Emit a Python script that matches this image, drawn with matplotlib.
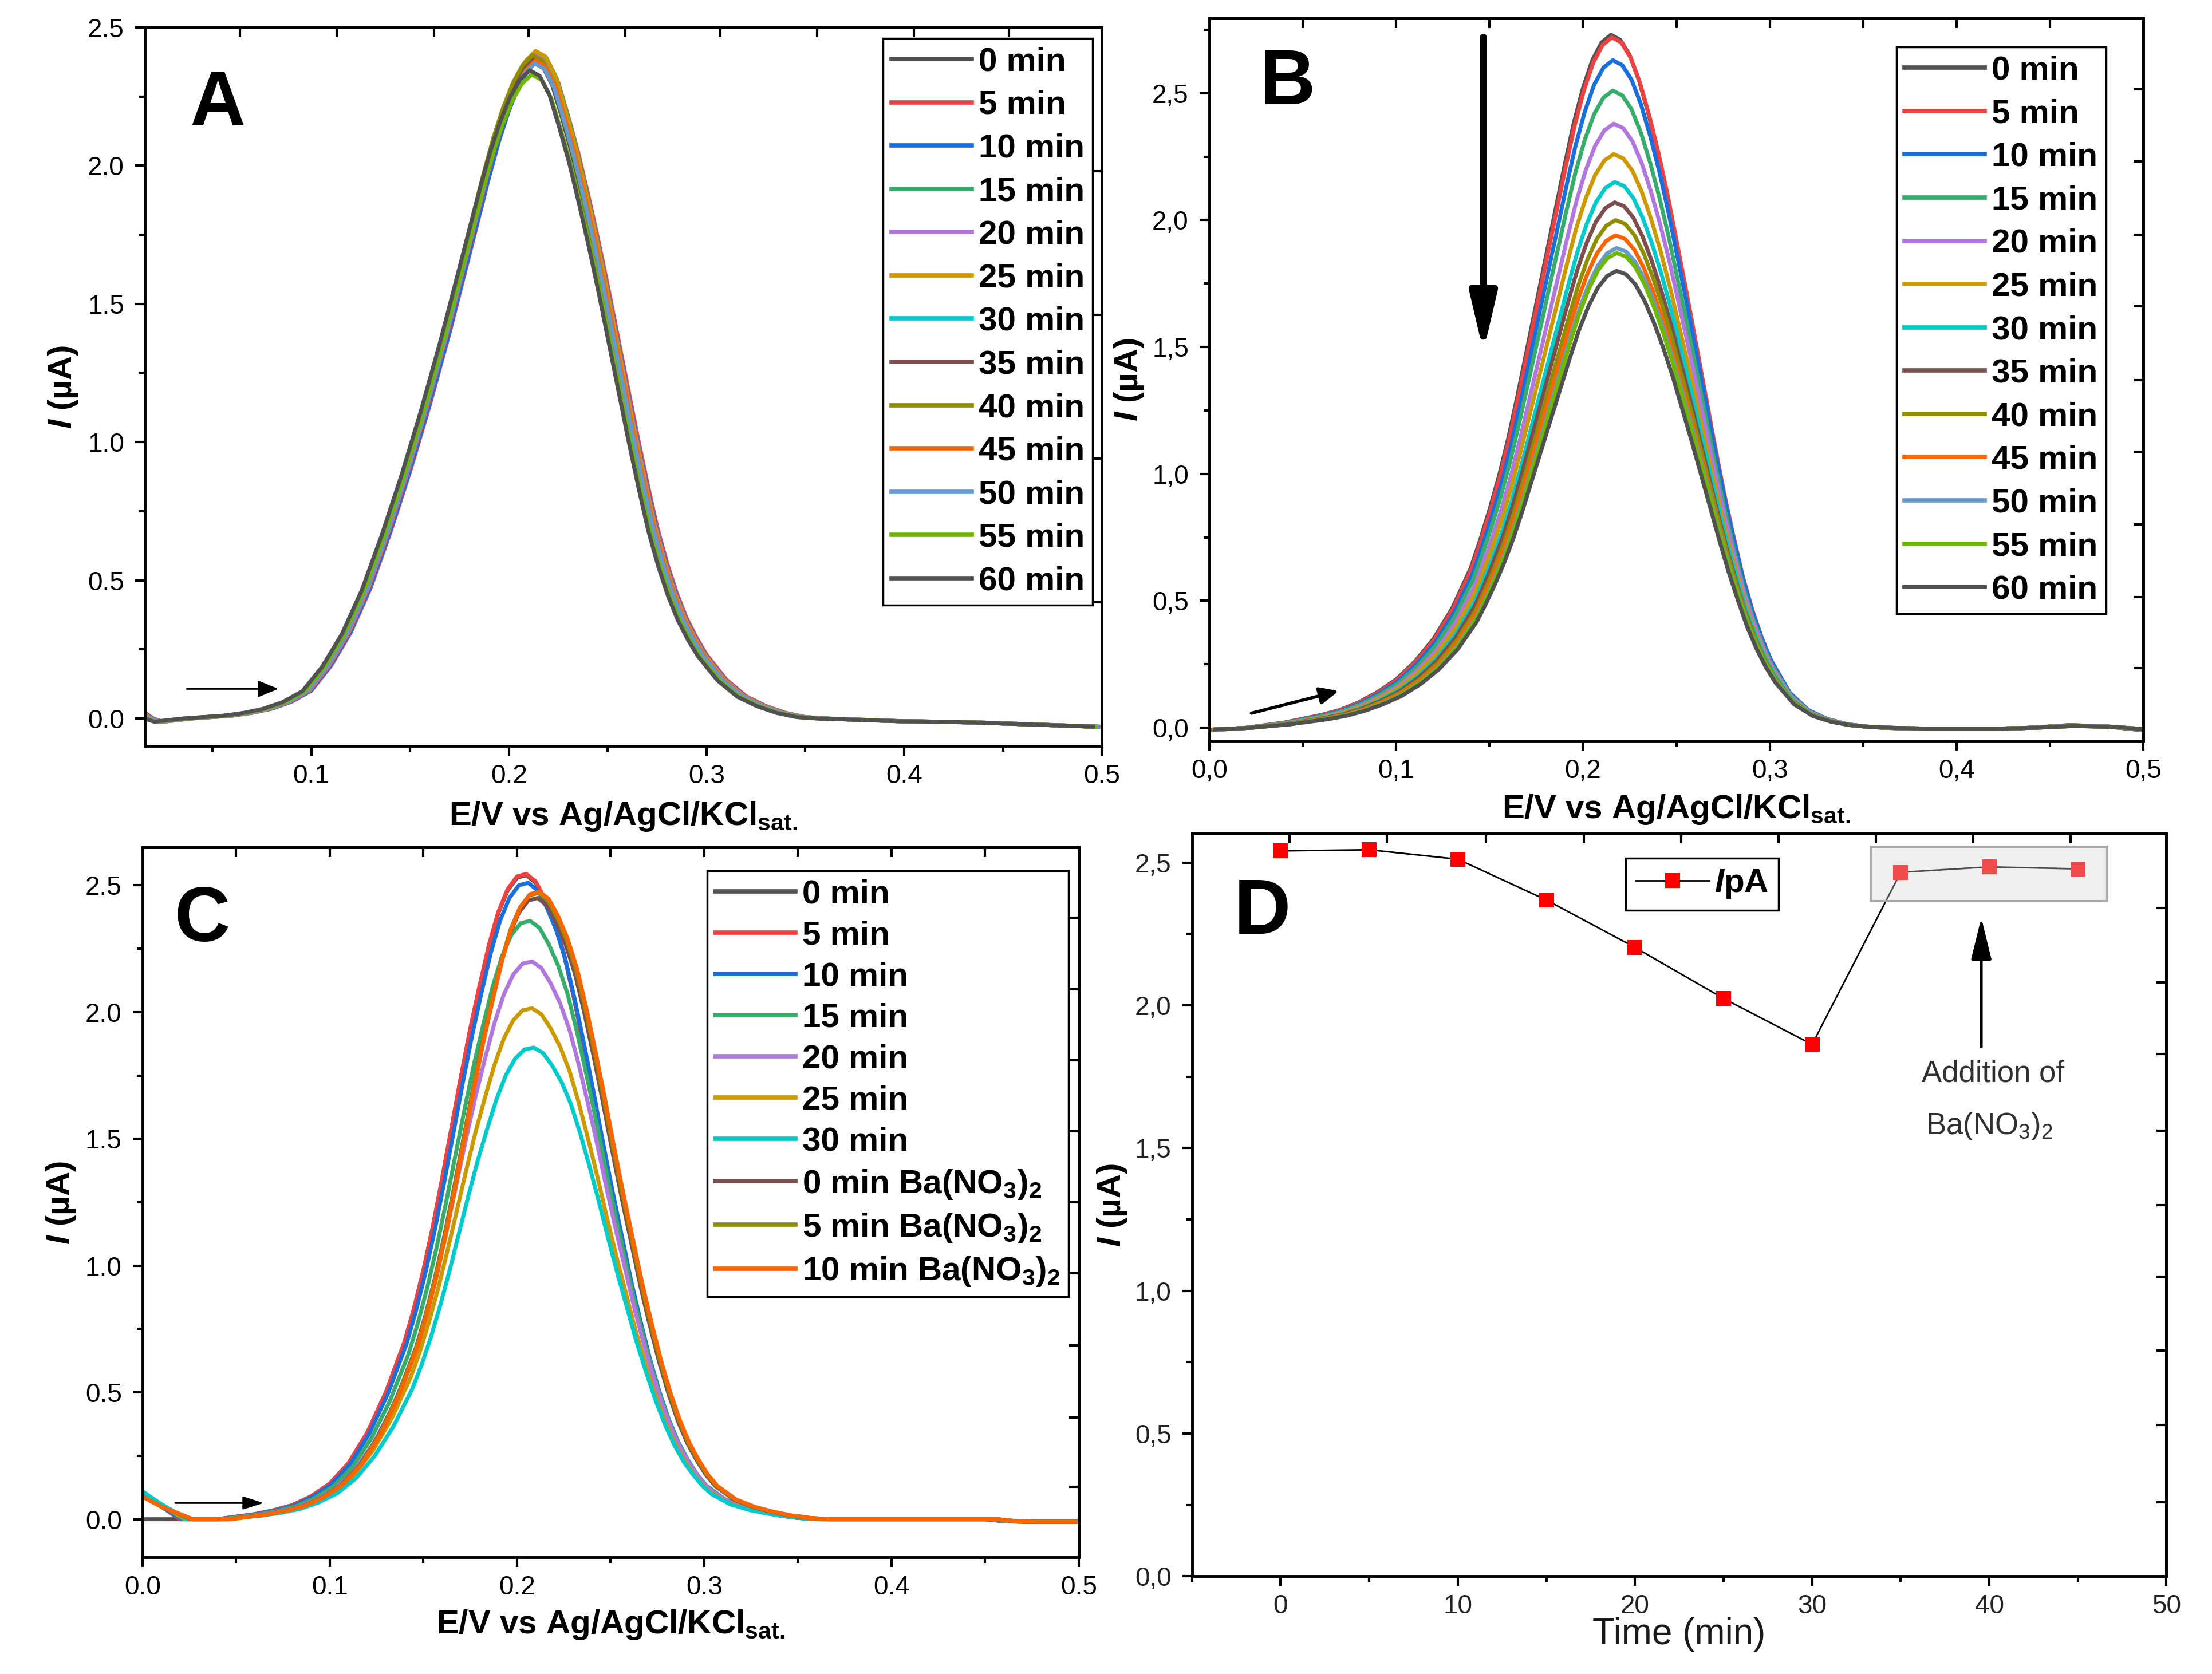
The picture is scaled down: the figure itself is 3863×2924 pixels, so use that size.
import numpy as np
import matplotlib
matplotlib.use('Agg')
import matplotlib.pyplot as plt
import matplotlib.ticker as ticker
from matplotlib.patches import Rectangle

plt.rcParams['font.family'] = ['Liberation Sans', 'DejaVu Sans']
plt.rcParams['mathtext.fontset'] = 'custom'
plt.rcParams['mathtext.rm'] = 'Liberation Sans'
plt.rcParams['mathtext.it'] = 'Liberation Sans:italic:bold'
plt.rcParams['mathtext.bf'] = 'Liberation Sans:bold'

# ---------------- data ----------------
min_labels = ['0 min', '5 min', '10 min', '15 min', '20 min', '25 min', '30 min',
              '35 min', '40 min', '45 min', '50 min', '55 min', '60 min']
min_colors = ['#515151', '#F14040', '#1A6FDF', '#37AD6B', '#B177DE', '#CC9900', '#00CBCC',
              '#7D4E4E', '#8E8E00', '#FB6501', '#6699CC', '#6FB802', '#515151']

# panel A: potential grid + shape of the voltammogram, peak height and small shift per curve
A_E = [0.016, 0.02, 0.025, 0.03, 0.04, 0.05, 0.06, 0.07, 0.08, 0.09, 0.10, 0.11, 0.12, 0.13,
       0.14, 0.15, 0.16, 0.17, 0.18, 0.19, 0.195, 0.20, 0.205, 0.21, 0.215, 0.22, 0.225, 0.23,
       0.235, 0.24, 0.245, 0.25, 0.255, 0.26, 0.265, 0.27, 0.275, 0.28, 0.285, 0.29, 0.295,
       0.30, 0.31, 0.32, 0.33, 0.34, 0.35, 0.36, 0.38, 0.40, 0.42, 0.44, 0.46, 0.48, 0.50]
A_I = [0.02, 0.0, -0.012, -0.008, 0.0, 0.005, 0.01, 0.02, 0.035, 0.06, 0.10, 0.19, 0.31, 0.47,
       0.67, 0.89, 1.13, 1.39, 1.67, 1.95, 2.08, 2.19, 2.28, 2.345, 2.38, 2.36, 2.29, 2.17,
       2.04, 1.89, 1.73, 1.56, 1.38, 1.20, 1.02, 0.85, 0.69, 0.56, 0.45, 0.36, 0.29,
       0.23, 0.14, 0.08, 0.045, 0.02, 0.005, 0.0, -0.005, -0.01, -0.012, -0.015, -0.02, -0.025, -0.03]
A_peak = [2.38, 2.39, 2.38, 2.41, 2.40, 2.415, 2.39, 2.39, 2.40, 2.38, 2.37, 2.33, 2.345]
A_shift = [-0.003, 0.0, -0.0005, -0.001, -0.001, -0.0015, -0.002, -0.0025, -0.003, -0.0015,
           -0.002, -0.0035, -0.0045]

# panel B
B_E = [0.0, 0.01, 0.02, 0.03, 0.04, 0.05, 0.06, 0.07, 0.08, 0.09, 0.10, 0.11, 0.12, 0.13, 0.14,
       0.145, 0.15, 0.155, 0.16, 0.165, 0.17, 0.175, 0.18, 0.185, 0.19, 0.195, 0.20, 0.205, 0.21,
       0.215, 0.22, 0.225, 0.23, 0.235, 0.24, 0.245, 0.25, 0.255, 0.26, 0.265, 0.27, 0.275, 0.28,
       0.285, 0.29, 0.295, 0.30, 0.31, 0.32, 0.33, 0.34, 0.35, 0.36, 0.38, 0.40, 0.42, 0.44,
       0.46, 0.48, 0.50]
B_I = [-0.01, -0.005, 0.0, 0.01, 0.02, 0.035, 0.05, 0.07, 0.10, 0.14, 0.19, 0.26, 0.35, 0.47, 0.63,
       0.74, 0.86, 0.99, 1.14, 1.31, 1.49, 1.67, 1.85, 2.03, 2.21, 2.38, 2.52, 2.63, 2.70,
       2.73, 2.71, 2.65, 2.55, 2.42, 2.27, 2.10, 1.91, 1.72, 1.52, 1.32, 1.12, 0.93, 0.76,
       0.60, 0.47, 0.36, 0.27, 0.14, 0.07, 0.035, 0.015, 0.005, 0.0, -0.005, -0.005, -0.005, 0.0,
       0.01, 0.005, -0.01]
B_peak = [2.73, 2.72, 2.63, 2.51, 2.38, 2.26, 2.15, 2.07, 2.00, 1.94, 1.89, 1.87, 1.80]
B_shift = [0.0, 0.0005, 0.001, 0.001, 0.0015, 0.0015, 0.002, 0.002, 0.0025, 0.0025, 0.003, 0.003, 0.003]

# panel C
C_labels = ['0 min', '5 min', '10 min', '15 min', '20 min', '25 min', '30 min',
            r'0 min Ba(NO$_\mathbf{3}$)$_\mathbf{2}$', r'5 min Ba(NO$_\mathbf{3}$)$_\mathbf{2}$',
            r'10 min Ba(NO$_\mathbf{3}$)$_\mathbf{2}$']
C_colors = ['#515151', '#F14040', '#1A6FDF', '#37AD6B', '#B177DE', '#CC9900', '#00CBCC',
            '#7D4E4E', '#8E8E00', '#FB6501']
C_E = [0.02, 0.03, 0.04, 0.05, 0.06, 0.07, 0.08, 0.09, 0.10, 0.11, 0.12, 0.13, 0.14,
       0.145, 0.15, 0.155, 0.16, 0.165, 0.17, 0.175, 0.18, 0.185, 0.19, 0.195, 0.20, 0.205,
       0.21, 0.215, 0.22, 0.225, 0.23, 0.235, 0.24, 0.245, 0.25, 0.255, 0.26, 0.265, 0.27,
       0.275, 0.28, 0.285, 0.29, 0.295, 0.30, 0.31, 0.32, 0.33, 0.34, 0.35, 0.36, 0.40, 0.45,
       0.46, 0.47, 0.50]
C_I = [0.0, 0.0, 0.0, 0.01, 0.02, 0.035, 0.055, 0.09, 0.14, 0.22, 0.34, 0.50, 0.70,
       0.83, 0.98, 1.15, 1.34, 1.54, 1.74, 1.93, 2.10, 2.26, 2.39, 2.48, 2.53, 2.54,
       2.51, 2.44, 2.35, 2.23, 2.07, 1.89, 1.70, 1.50, 1.31, 1.13, 0.95, 0.79, 0.64,
       0.51, 0.40, 0.31, 0.24, 0.18, 0.135, 0.08, 0.05, 0.03, 0.015, 0.005, 0.0, 0.0, 0.0,
       -0.008, -0.01, -0.01]
C_peak = [2.54, 2.545, 2.51, 2.36, 2.20, 2.015, 1.86, 2.45, 2.47, 2.475]
C_shift = [0.0, 0.0, 0.001, 0.002, 0.003, 0.003, 0.004, 0.006, 0.0065, 0.007]
C_start0 = [0.0, 0.09, 0.09, 0.10, 0.10, 0.10, 0.11, 0.09, 0.09, 0.09]   # I at E = 0.00
C_start1 = [0.0, 0.05, 0.05, 0.055, 0.055, 0.055, 0.06, 0.05, 0.05, 0.05]  # I at E = 0.01

# panel D
D_time = [0, 5, 10, 15, 20, 25, 30, 35, 40, 45]
D_ipa = [2.541, 2.545, 2.512, 2.369, 2.203, 2.024, 1.863, 2.466, 2.485, 2.478]

# ---------------- figure ----------------
fig = plt.figure(figsize=(38.63, 29.24), dpi=100)
axA = fig.add_axes([0.0655, 0.5543, 0.4326, 0.4293])
axB = fig.add_axes([0.5467, 0.5574, 0.4223, 0.4315])
axC = fig.add_axes([0.0644, 0.0696, 0.4233, 0.4241])
axD = fig.add_axes([0.5389, 0.0584, 0.4405, 0.4437])

TICK_FS = 33
LAB_FS = 42
LEG_FS = 42
LW = 5


def comma(v, pos):
    return f'{v:.1f}'.replace('.', ',')


def style(ax, xmaj, xmin, ymaj, ymin, top_ticks, right_ticks, fmt, tcolor='black'):
    ax.xaxis.set_major_locator(ticker.MultipleLocator(xmaj))
    ax.xaxis.set_minor_locator(ticker.MultipleLocator(xmin))
    ax.yaxis.set_major_locator(ticker.MultipleLocator(ymaj))
    ax.yaxis.set_minor_locator(ticker.MultipleLocator(ymin))
    ax.yaxis.set_major_formatter(ticker.FuncFormatter(fmt))
    ax.tick_params(which='both', direction='out', width=3, labelsize=TICK_FS,
                   labelcolor=tcolor, top=False, right=False)
    ax.tick_params(which='major', length=12)
    ax.tick_params(which='minor', length=7)
    ax.tick_params(axis='x', pad=10)
    ax.tick_params(axis='y', pad=14)
    for s in ax.spines.values():
        s.set_linewidth(3.5)
    sx = ax.secondary_xaxis('top')
    sx.set_xticks(top_ticks)
    sx.tick_params(direction='in', length=12, width=3, labeltop=False)
    sx.spines['top'].set_linewidth(3.5)
    sy = ax.secondary_yaxis('right')
    sy.set_yticks(right_ticks)
    sy.tick_params(direction='in', length=12, width=3, labelright=False)
    sy.spines['right'].set_linewidth(3.5)


def curves(ax, E, I, peaks, shifts, labels, colors):
    top = max(I)
    for lab, h, s, c in zip(labels, peaks, shifts, colors):
        ax.plot(np.array(E) + s, np.array(I) * h / top, color=c, lw=LW, label=lab)


def legend(ax, anchor, spacing=0.37):
    leg = ax.legend(loc='upper left', bbox_to_anchor=anchor, borderaxespad=0,
                    prop={'weight': 'bold', 'size': LEG_FS},
                    frameon=True, fancybox=False, edgecolor='black', framealpha=1,
                    handlelength=2.4, handletextpad=0.2, labelspacing=spacing,
                    borderpad=0.25)
    leg.get_frame().set_linewidth(2.5)
    for ln in leg.get_lines():
        ln.set_linewidth(5.5)
    return leg


xlab = r'E/V vs Ag/AgCl/KCl$_\mathbf{sat.}$'
ylab = r'$I$ (µA)'

# ----- A -----
curves(axA, A_E, A_I, A_peak, A_shift, min_labels, min_colors)
axA.set_xlim(0.0158, 0.5)
axA.set_ylim(-0.1, 2.5)
style(axA, 0.1, 0.05, 0.5, 0.25,
      [0.064, 0.113, 0.162, 0.210, 0.259, 0.307, 0.356, 0.405, 0.453],
      [0.42, 0.94, 1.46, 1.98],
      lambda v, p: f'{v:.1f}')
axA.xaxis.set_major_formatter(ticker.FuncFormatter(lambda v, p: f'{v:.1f}'))
legend(axA, (0.7715, 0.985))
axA.set_xlabel(xlab, fontsize=LAB_FS, fontweight='bold', labelpad=14)
axA.set_ylabel(ylab, fontsize=LAB_FS, fontweight='bold', labelpad=10)
axA.text(0.076, 0.892, 'A', transform=axA.transAxes, fontsize=97, fontweight='bold',
         ha='center', va='center')
axA.annotate('', xy=(0.0834, 0.107), xytext=(0.0371, 0.107),
             arrowprops=dict(arrowstyle='-|>,head_length=0.22,head_width=0.09', lw=2.2,
                             color='black', mutation_scale=100, shrinkA=0, shrinkB=0))

# ----- B -----
curves(axB, B_E, B_I, B_peak, B_shift, min_labels, min_colors)
axB.set_xlim(0.0, 0.5)
axB.set_ylim(-0.052, 2.794)
style(axB, 0.1, 0.05, 0.5, 0.25,
      [0.05, 0.1, 0.15, 0.2, 0.25, 0.3, 0.35, 0.4, 0.45],
      [0.235, 0.515, 0.80, 1.088, 1.37, 1.66, 1.943, 2.231, 2.515],
      comma)
axB.xaxis.set_major_formatter(ticker.FuncFormatter(comma))
legend(axB, (0.7355, 0.9607))
axB.set_xlabel(xlab, fontsize=LAB_FS, fontweight='bold', labelpad=12)
axB.set_ylabel(ylab, fontsize=LAB_FS, fontweight='bold', labelpad=8)
axB.text(0.084, 0.9096, 'B', transform=axB.transAxes, fontsize=97, fontweight='bold',
         ha='center', va='center')
axB.annotate('', xy=(0.1467, 1.481), xytext=(0.1467, 2.72),
             arrowprops=dict(arrowstyle='-|>,head_length=0.6,head_width=0.14', lw=9,
                             color='black', mutation_scale=100, shrinkA=0, shrinkB=0))
axB.annotate('', xy=(0.0693, 0.145), xytext=(0.0225, 0.057),
             arrowprops=dict(arrowstyle='-|>,head_length=0.2,head_width=0.09', lw=4,
                             color='black', mutation_scale=100, shrinkA=0, shrinkB=0))

# ----- C -----
for lab, h, s, c, s0, s1 in zip(C_labels, C_peak, C_shift, C_colors, C_start0, C_start1):
    top = max(C_I)
    xs = [0.0, 0.01] + list(np.array(C_E) + s)
    ys = [s0, s1] + list(np.array(C_I) * h / top)
    axC.plot(xs, ys, color=c, lw=LW, label=lab)
axC.set_xlim(0.0, 0.5)
axC.set_ylim(-0.151, 2.649)
style(axC, 0.1, 0.05, 0.5, 0.25,
      [0.05, 0.1, 0.15, 0.2, 0.25, 0.3, 0.35, 0.4, 0.45],
      [0.127, 0.40, 0.686, 0.97, 1.25, 1.53, 1.81, 2.09, 2.373],
      lambda v, p: f'{v:.1f}')
axC.xaxis.set_major_formatter(ticker.FuncFormatter(lambda v, p: f'{v:.1f}'))
legend(axC, (0.603, 0.9676), spacing=0.31)
axC.set_xlabel(xlab, fontsize=LAB_FS, fontweight='bold', labelpad=10)
axC.set_ylabel(ylab, fontsize=LAB_FS, fontweight='bold', labelpad=10)
axC.text(0.064, 0.896, 'C', transform=axC.transAxes, fontsize=97, fontweight='bold',
         ha='center', va='center')
axC.annotate('', xy=(0.0647, 0.064), xytext=(0.0175, 0.064),
             arrowprops=dict(arrowstyle='-|>,head_length=0.22,head_width=0.07', lw=2.2,
                             color='black', mutation_scale=100, shrinkA=0, shrinkB=0))

# ----- D -----
axD.plot(D_time, D_ipa, color='black', lw=2, marker='s', markersize=19,
         markerfacecolor='#FF0000', markeredgewidth=0, label=r'$I$pA')
axD.set_xlim(-5, 50)
axD.set_ylim(0, 2.602)
style(axD, 10, 5, 0.5, 0.25,
      [0.5, 6.0, 11.6, 17.1, 22.6, 28.1, 33.6, 39.1, 44.6],
      [0.26, 0.53, 0.79, 1.05, 1.30, 1.56, 1.83, 2.08, 2.34],
      comma, tcolor='#222222')
axD.xaxis.set_major_formatter(ticker.FuncFormatter(lambda v, p: f'{v:.0f}'))
legD = axD.legend(loc='upper left', bbox_to_anchor=(0.445, 0.967), borderaxespad=0,
                  prop={'weight': 'bold', 'size': LEG_FS}, frameon=True, fancybox=False,
                  edgecolor='black', framealpha=1, handlelength=2.2, handletextpad=0.15,
                  borderpad=0.3)
legD.get_frame().set_linewidth(2.5)
axD.add_patch(Rectangle((33.3, 2.366), 13.35, 0.189, facecolor=(0.84, 0.84, 0.84, 0.35),
                        edgecolor='#a8a8a8', lw=3, zorder=6))
axD.annotate('', xy=(39.55, 2.307), xytext=(39.55, 1.854),
             arrowprops=dict(arrowstyle='-|>,head_length=0.45,head_width=0.11', lw=3.5,
                             color='black', mutation_scale=100, shrinkA=0, shrinkB=0))
axD.text(40.2, 1.76, 'Addition of', fontsize=38, color='#303030', ha='center', va='center')
axD.text(40.0, 1.577, r'Ba(NO$_3$)$_2$', fontsize=38, color='#303030', ha='center', va='center')
axD.set_xlabel('Time (min)', fontsize=46, color='#1a1a1a', labelpad=-2)
axD.set_ylabel(ylab, fontsize=LAB_FS, fontweight='bold', labelpad=8)
axD.text(0.072, 0.892, 'D', transform=axD.transAxes, fontsize=99, fontweight='bold',
         ha='center', va='center')

fig.savefig('out.png', dpi=100)
